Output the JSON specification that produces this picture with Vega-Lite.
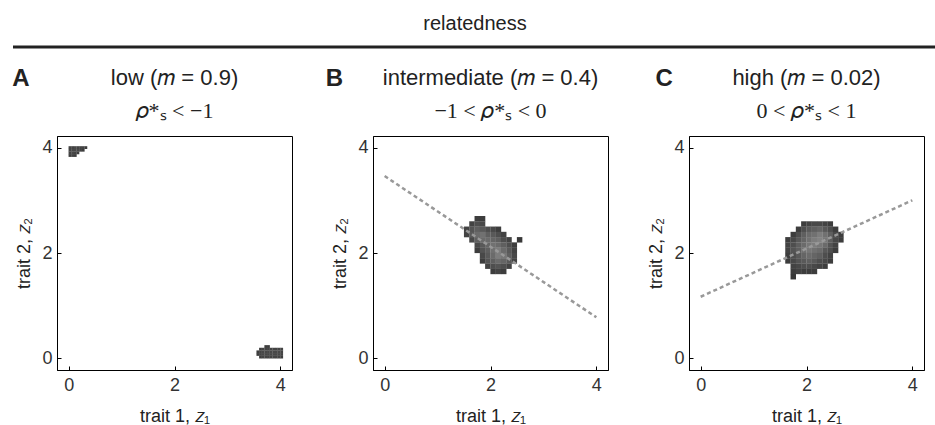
{
  "$schema": "https://vega.github.io/schema/vega-lite/v6.json",
  "padding": {"left": 11, "top": 13, "right": 0, "bottom": 0},
  "config": {
    "font": "Liberation Sans",
    "view": {"stroke": "#000", "strokeWidth": 1},
    "axis": {"grid": false, "domainColor": "#000", "domainWidth": 1, "tickColor": "#000", "tickSize": -4, "labelFontSize": 18, "labelColor": "#333", "titleFontSize": 18, "titleFontWeight": "normal", "titleColor": "#222", "labelFont": "Liberation Sans", "titleFont": "Liberation Sans"},
    "axisX": {"labelPadding": 10, "titlePadding": 13},
    "axisY": {"labelPadding": 9, "titlePadding": 8},
    "title": {"font": "Liberation Sans", "fontWeight": "normal", "fontSize": 22, "color": "#222", "subtitleFont": "Liberation Serif", "subtitleFontSize": 22, "subtitleColor": "#222", "subtitlePadding": 11}
  },
  "vconcat": [
    {
      "width": 880, "height": 1,
      "view": {"stroke": null},
      "title": {"text": "relatedness", "fontSize": 20, "anchor": "middle", "frame": "bounds", "offset": 12},
      "data": {"values": [{"label": "relatedness"}]},
      "mark": {"type": "rule", "color": "#222", "strokeWidth": 3},
      "encoding": {
        "x": {"datum": -0.05, "type": "quantitative", "scale": {"domain": [0, 1], "nice": false, "zero": false}, "axis": null},
        "x2": {"datum": 1},
        "y": {"datum": 0, "type": "quantitative", "axis": null}
      }
    },
    {
      "hconcat": [
        {
          "width": 235, "height": 234,
          "title": {"text": "low (𝑚 = 0.9)", "subtitle": "𝜌*ₛ < −1", "frame": "group", "anchor": "middle", "offset": -56},
          "layer": [
            {
              "data": {"values": [
                {"x": 0.025, "y": 4.0, "d": 0.1}, {"x": 0.075, "y": 4.0, "d": 0.1}, {"x": 0.125, "y": 4.0, "d": 0.15}, {"x": 0.175, "y": 4.0, "d": 0.1}, {"x": 0.225, "y": 4.0, "d": 0.1}, {"x": 0.275, "y": 4.0, "d": 0.1}, {"x": 0.325, "y": 4.0, "d": 0.05},
                {"x": 0.025, "y": 3.95, "d": 0.1}, {"x": 0.075, "y": 3.95, "d": 0.15}, {"x": 0.125, "y": 3.95, "d": 0.15}, {"x": 0.175, "y": 3.95, "d": 0.15}, {"x": 0.225, "y": 3.95, "d": 0.1}, {"x": 0.275, "y": 3.95, "d": 0.05},
                {"x": 0.025, "y": 3.9, "d": 0.1}, {"x": 0.075, "y": 3.9, "d": 0.15}, {"x": 0.125, "y": 3.9, "d": 0.1}, {"x": 0.175, "y": 3.9, "d": 0.05},
                {"x": 0.025, "y": 3.85, "d": 0.05}, {"x": 0.075, "y": 3.85, "d": 0.1}, {"x": 0.125, "y": 3.85, "d": 0.05},
                {"x": 3.725, "y": 0.225, "d": 0.05}, {"x": 3.775, "y": 0.225, "d": 0.05},
                {"x": 3.625, "y": 0.175, "d": 0.05}, {"x": 3.675, "y": 0.175, "d": 0.1}, {"x": 3.725, "y": 0.175, "d": 0.1}, {"x": 3.775, "y": 0.175, "d": 0.1}, {"x": 3.825, "y": 0.175, "d": 0.1}, {"x": 3.875, "y": 0.175, "d": 0.1}, {"x": 3.925, "y": 0.175, "d": 0.1}, {"x": 3.975, "y": 0.175, "d": 0.1}, {"x": 4.025, "y": 0.175, "d": 0.1},
                {"x": 3.575, "y": 0.125, "d": 0.05}, {"x": 3.625, "y": 0.125, "d": 0.1}, {"x": 3.675, "y": 0.125, "d": 0.15}, {"x": 3.725, "y": 0.125, "d": 0.15}, {"x": 3.775, "y": 0.125, "d": 0.15}, {"x": 3.825, "y": 0.125, "d": 0.15}, {"x": 3.875, "y": 0.125, "d": 0.15}, {"x": 3.925, "y": 0.125, "d": 0.15}, {"x": 3.975, "y": 0.125, "d": 0.15}, {"x": 4.025, "y": 0.125, "d": 0.1},
                {"x": 3.575, "y": 0.075, "d": 0.05}, {"x": 3.625, "y": 0.075, "d": 0.1}, {"x": 3.675, "y": 0.075, "d": 0.15}, {"x": 3.725, "y": 0.075, "d": 0.15}, {"x": 3.775, "y": 0.075, "d": 0.15}, {"x": 3.825, "y": 0.075, "d": 0.15}, {"x": 3.875, "y": 0.075, "d": 0.15}, {"x": 3.925, "y": 0.075, "d": 0.15}, {"x": 3.975, "y": 0.075, "d": 0.15}, {"x": 4.025, "y": 0.075, "d": 0.1},
                {"x": 3.625, "y": 0.025, "d": 0.05}, {"x": 3.675, "y": 0.025, "d": 0.1}, {"x": 3.725, "y": 0.025, "d": 0.1}, {"x": 3.775, "y": 0.025, "d": 0.1}, {"x": 3.825, "y": 0.025, "d": 0.1}, {"x": 3.875, "y": 0.025, "d": 0.1}, {"x": 3.925, "y": 0.025, "d": 0.1}, {"x": 3.975, "y": 0.025, "d": 0.1}, {"x": 4.025, "y": 0.025, "d": 0.05}
              ]},
              "mark": {"type": "square", "size": 8, "opacity": 1},
              "encoding": {
                "x": {"field": "x", "type": "quantitative", "scale": {"domain": [-0.22, 4.22], "nice": false, "zero": false}, "axis": {"values": [0, 2, 4]}, "title": "trait 1, 𝑧₁"},
                "y": {"field": "y", "type": "quantitative", "scale": {"domain": [-0.22, 4.22], "nice": false, "zero": false}, "axis": {"values": [0, 2, 4]}, "title": "trait 2, 𝑧₂"},
                "color": {"field": "d", "type": "quantitative", "scale": {"domain": [0, 1], "range": ["#383838", "#b0b0b0"]}, "legend": null}
              }
            },
            {
              "data": {"values": [{"letter": "A"}]},
              "mark": {"type": "text", "fontWeight": "bold", "fontSize": 24, "font": "Liberation Sans", "color": "#222", "align": "center", "baseline": "middle"},
              "encoding": {
                "x": {"datum": -0.9, "type": "quantitative", "title": "trait 1, 𝑧₁"},
                "y": {"datum": 5.3, "type": "quantitative", "title": "trait 2, 𝑧₂"},
                "text": {"field": "letter"}
              }
            }
          ]
        },
        {
          "width": 235, "height": 234,
          "title": {"text": "intermediate (𝑚 = 0.4)", "subtitle": "−1 < 𝜌*ₛ < 0", "frame": "group", "anchor": "middle", "offset": -56},
          "layer": [
            {
              "data": {"values": [
                {"x": 1.75, "y": 2.65, "d": 0.05}, {"x": 1.85, "y": 2.65, "d": 0.05},
                {"x": 1.65, "y": 2.55, "d": 0.1}, {"x": 1.75, "y": 2.55, "d": 0.2}, {"x": 1.85, "y": 2.55, "d": 0.15},
                {"x": 1.55, "y": 2.45, "d": 0.1}, {"x": 1.65, "y": 2.45, "d": 0.25}, {"x": 1.75, "y": 2.45, "d": 0.35}, {"x": 1.85, "y": 2.45, "d": 0.3}, {"x": 1.95, "y": 2.45, "d": 0.2}, {"x": 2.05, "y": 2.45, "d": 0.15}, {"x": 2.15, "y": 2.45, "d": 0.05},
                {"x": 1.55, "y": 2.35, "d": 0.1}, {"x": 1.65, "y": 2.35, "d": 0.3}, {"x": 1.75, "y": 2.35, "d": 0.45}, {"x": 1.85, "y": 2.35, "d": 0.5}, {"x": 1.95, "y": 2.35, "d": 0.35}, {"x": 2.05, "y": 2.35, "d": 0.3}, {"x": 2.15, "y": 2.35, "d": 0.2}, {"x": 2.25, "y": 2.35, "d": 0.1},
                {"x": 1.65, "y": 2.25, "d": 0.15}, {"x": 1.75, "y": 2.25, "d": 0.35}, {"x": 1.85, "y": 2.25, "d": 0.45}, {"x": 1.95, "y": 2.25, "d": 0.45}, {"x": 2.05, "y": 2.25, "d": 0.4}, {"x": 2.15, "y": 2.25, "d": 0.35}, {"x": 2.25, "y": 2.25, "d": 0.2}, {"x": 2.35, "y": 2.25, "d": 0.1},
                {"x": 1.75, "y": 2.15, "d": 0.15}, {"x": 1.85, "y": 2.15, "d": 0.3}, {"x": 1.95, "y": 2.15, "d": 0.4}, {"x": 2.05, "y": 2.15, "d": 0.5}, {"x": 2.15, "y": 2.15, "d": 0.45}, {"x": 2.25, "y": 2.15, "d": 0.35}, {"x": 2.35, "y": 2.15, "d": 0.2}, {"x": 2.45, "y": 2.15, "d": 0.05},
                {"x": 1.75, "y": 2.05, "d": 0.05}, {"x": 1.85, "y": 2.05, "d": 0.25}, {"x": 1.95, "y": 2.05, "d": 0.35}, {"x": 2.05, "y": 2.05, "d": 0.5}, {"x": 2.15, "y": 2.05, "d": 0.6}, {"x": 2.25, "y": 2.05, "d": 0.45}, {"x": 2.35, "y": 2.05, "d": 0.3}, {"x": 2.45, "y": 2.05, "d": 0.1},
                {"x": 1.85, "y": 1.95, "d": 0.15}, {"x": 1.95, "y": 1.95, "d": 0.3}, {"x": 2.05, "y": 1.95, "d": 0.45}, {"x": 2.15, "y": 1.95, "d": 0.6}, {"x": 2.25, "y": 1.95, "d": 0.55}, {"x": 2.35, "y": 1.95, "d": 0.35}, {"x": 2.45, "y": 1.95, "d": 0.15},
                {"x": 1.85, "y": 1.85, "d": 0.05}, {"x": 1.95, "y": 1.85, "d": 0.25}, {"x": 2.05, "y": 1.85, "d": 0.35}, {"x": 2.15, "y": 1.85, "d": 0.45}, {"x": 2.25, "y": 1.85, "d": 0.4}, {"x": 2.35, "y": 1.85, "d": 0.3}, {"x": 2.45, "y": 1.85, "d": 0.1},
                {"x": 1.95, "y": 1.75, "d": 0.1}, {"x": 2.05, "y": 1.75, "d": 0.2}, {"x": 2.15, "y": 1.75, "d": 0.25}, {"x": 2.25, "y": 1.75, "d": 0.2}, {"x": 2.35, "y": 1.75, "d": 0.1},
                {"x": 2.05, "y": 1.65, "d": 0.05}, {"x": 2.15, "y": 1.65, "d": 0.1}, {"x": 2.25, "y": 1.65, "d": 0.05},
                {"x": 2.55, "y": 2.25, "d": 0.0}
              ]},
              "mark": {"type": "square", "size": 30, "opacity": 1},
              "encoding": {
                "x": {"field": "x", "type": "quantitative", "scale": {"domain": [-0.22, 4.22], "nice": false, "zero": false}, "axis": {"values": [0, 2, 4]}, "title": "trait 1, 𝑧₁"},
                "y": {"field": "y", "type": "quantitative", "scale": {"domain": [-0.22, 4.22], "nice": false, "zero": false}, "axis": {"values": [0, 2, 4]}, "title": "trait 2, 𝑧₂"},
                "color": {"field": "d", "type": "quantitative", "scale": {"domain": [0, 1], "range": ["#383838", "#b0b0b0"]}, "legend": null}
              }
            },
            {
              "data": {"values": [{"x": 0, "y": 3.46}, {"x": 4, "y": 0.78}]},
              "mark": {"type": "line", "color": "#999999", "strokeWidth": 2.5, "strokeDash": [4, 3]},
              "encoding": {
                "x": {"field": "x", "type": "quantitative", "title": "trait 1, 𝑧₁"},
                "y": {"field": "y", "type": "quantitative", "title": "trait 2, 𝑧₂"}
              }
            },
            {
              "data": {"values": [{"letter": "B"}]},
              "mark": {"type": "text", "fontWeight": "bold", "fontSize": 24, "font": "Liberation Sans", "color": "#222", "align": "center", "baseline": "middle"},
              "encoding": {
                "x": {"datum": -0.95, "type": "quantitative", "title": "trait 1, 𝑧₁"},
                "y": {"datum": 5.3, "type": "quantitative", "title": "trait 2, 𝑧₂"},
                "text": {"field": "letter"}
              }
            }
          ]
        },
        {
          "width": 235, "height": 234,
          "title": {"text": "high (𝑚 = 0.02)", "subtitle": "0 < 𝜌*ₛ < 1", "frame": "group", "anchor": "middle", "offset": -56},
          "layer": [
            {
              "data": {"values": [
                {"x": 1.95, "y": 2.55, "d": 0.05}, {"x": 2.05, "y": 2.55, "d": 0.1}, {"x": 2.15, "y": 2.55, "d": 0.15}, {"x": 2.25, "y": 2.55, "d": 0.15}, {"x": 2.35, "y": 2.55, "d": 0.1}, {"x": 2.45, "y": 2.55, "d": 0.05},
                {"x": 1.85, "y": 2.45, "d": 0.05}, {"x": 1.95, "y": 2.45, "d": 0.2}, {"x": 2.05, "y": 2.45, "d": 0.3}, {"x": 2.15, "y": 2.45, "d": 0.35}, {"x": 2.25, "y": 2.45, "d": 0.4}, {"x": 2.35, "y": 2.45, "d": 0.3}, {"x": 2.45, "y": 2.45, "d": 0.2}, {"x": 2.55, "y": 2.45, "d": 0.05},
                {"x": 1.75, "y": 2.35, "d": 0.05}, {"x": 1.85, "y": 2.35, "d": 0.2}, {"x": 1.95, "y": 2.35, "d": 0.35}, {"x": 2.05, "y": 2.35, "d": 0.45}, {"x": 2.15, "y": 2.35, "d": 0.5}, {"x": 2.25, "y": 2.35, "d": 0.6}, {"x": 2.35, "y": 2.35, "d": 0.5}, {"x": 2.45, "y": 2.35, "d": 0.35}, {"x": 2.55, "y": 2.35, "d": 0.15}, {"x": 2.65, "y": 2.35, "d": 0.05},
                {"x": 1.65, "y": 2.25, "d": 0.05}, {"x": 1.75, "y": 2.25, "d": 0.15}, {"x": 1.85, "y": 2.25, "d": 0.3}, {"x": 1.95, "y": 2.25, "d": 0.4}, {"x": 2.05, "y": 2.25, "d": 0.5}, {"x": 2.15, "y": 2.25, "d": 0.6}, {"x": 2.25, "y": 2.25, "d": 0.65}, {"x": 2.35, "y": 2.25, "d": 0.55}, {"x": 2.45, "y": 2.25, "d": 0.35}, {"x": 2.55, "y": 2.25, "d": 0.15}, {"x": 2.65, "y": 2.25, "d": 0.05},
                {"x": 1.65, "y": 2.15, "d": 0.1}, {"x": 1.75, "y": 2.15, "d": 0.2}, {"x": 1.85, "y": 2.15, "d": 0.35}, {"x": 1.95, "y": 2.15, "d": 0.45}, {"x": 2.05, "y": 2.15, "d": 0.55}, {"x": 2.15, "y": 2.15, "d": 0.6}, {"x": 2.25, "y": 2.15, "d": 0.55}, {"x": 2.35, "y": 2.15, "d": 0.45}, {"x": 2.45, "y": 2.15, "d": 0.25}, {"x": 2.55, "y": 2.15, "d": 0.1},
                {"x": 1.65, "y": 2.05, "d": 0.1}, {"x": 1.75, "y": 2.05, "d": 0.25}, {"x": 1.85, "y": 2.05, "d": 0.35}, {"x": 1.95, "y": 2.05, "d": 0.5}, {"x": 2.05, "y": 2.05, "d": 0.55}, {"x": 2.15, "y": 2.05, "d": 0.5}, {"x": 2.25, "y": 2.05, "d": 0.45}, {"x": 2.35, "y": 2.05, "d": 0.3}, {"x": 2.45, "y": 2.05, "d": 0.2}, {"x": 2.55, "y": 2.05, "d": 0.05},
                {"x": 1.65, "y": 1.95, "d": 0.05}, {"x": 1.75, "y": 1.95, "d": 0.2}, {"x": 1.85, "y": 1.95, "d": 0.3}, {"x": 1.95, "y": 1.95, "d": 0.4}, {"x": 2.05, "y": 1.95, "d": 0.45}, {"x": 2.15, "y": 1.95, "d": 0.4}, {"x": 2.25, "y": 1.95, "d": 0.35}, {"x": 2.35, "y": 1.95, "d": 0.2}, {"x": 2.45, "y": 1.95, "d": 0.1},
                {"x": 1.65, "y": 1.85, "d": 0.05}, {"x": 1.75, "y": 1.85, "d": 0.15}, {"x": 1.85, "y": 1.85, "d": 0.25}, {"x": 1.95, "y": 1.85, "d": 0.3}, {"x": 2.05, "y": 1.85, "d": 0.35}, {"x": 2.15, "y": 1.85, "d": 0.3}, {"x": 2.25, "y": 1.85, "d": 0.2}, {"x": 2.35, "y": 1.85, "d": 0.15}, {"x": 2.45, "y": 1.85, "d": 0.05},
                {"x": 1.75, "y": 1.75, "d": 0.1}, {"x": 1.85, "y": 1.75, "d": 0.15}, {"x": 1.95, "y": 1.75, "d": 0.2}, {"x": 2.05, "y": 1.75, "d": 0.2}, {"x": 2.15, "y": 1.75, "d": 0.15}, {"x": 2.25, "y": 1.75, "d": 0.1}, {"x": 2.35, "y": 1.75, "d": 0.05},
                {"x": 1.75, "y": 1.65, "d": 0.05}, {"x": 1.85, "y": 1.65, "d": 0.1}, {"x": 1.95, "y": 1.65, "d": 0.05}, {"x": 2.05, "y": 1.65, "d": 0.05}, {"x": 2.15, "y": 1.65, "d": 0.05},
                {"x": 1.75, "y": 1.55, "d": 0.0}
              ]},
              "mark": {"type": "square", "size": 30, "opacity": 1},
              "encoding": {
                "x": {"field": "x", "type": "quantitative", "scale": {"domain": [-0.22, 4.22], "nice": false, "zero": false}, "axis": {"values": [0, 2, 4]}, "title": "trait 1, 𝑧₁"},
                "y": {"field": "y", "type": "quantitative", "scale": {"domain": [-0.22, 4.22], "nice": false, "zero": false}, "axis": {"values": [0, 2, 4]}, "title": "trait 2, 𝑧₂"},
                "color": {"field": "d", "type": "quantitative", "scale": {"domain": [0, 1], "range": ["#383838", "#b0b0b0"]}, "legend": null}
              }
            },
            {
              "data": {"values": [{"x": 0, "y": 1.17}, {"x": 4, "y": 3.0}]},
              "mark": {"type": "line", "color": "#999999", "strokeWidth": 2.5, "strokeDash": [4, 3]},
              "encoding": {
                "x": {"field": "x", "type": "quantitative", "title": "trait 1, 𝑧₁"},
                "y": {"field": "y", "type": "quantitative", "title": "trait 2, 𝑧₂"}
              }
            },
            {
              "data": {"values": [{"letter": "C"}]},
              "mark": {"type": "text", "fontWeight": "bold", "fontSize": 24, "font": "Liberation Sans", "color": "#222", "align": "center", "baseline": "middle"},
              "encoding": {
                "x": {"datum": -0.69, "type": "quantitative", "title": "trait 1, 𝑧₁"},
                "y": {"datum": 5.3, "type": "quantitative", "title": "trait 2, 𝑧₂"},
                "text": {"field": "letter"}
              }
            }
          ]
        }
      ],
      "spacing": 81,
      "bounds": "flush"
    }
  ],
  "spacing": 17
}
